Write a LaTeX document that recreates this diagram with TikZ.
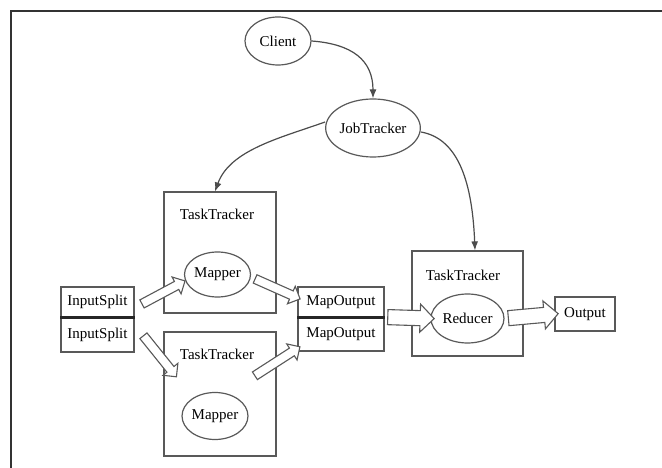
\documentclass[tikz,border=0pt]{standalone}
\usepackage{fontspec}
\setmainfont{Liberation Serif}
\usetikzlibrary{shapes.geometric,shapes.arrows,arrows.meta,calc}
\tikzset{
  lc/.style={draw=black!65, line width=1.2pt},
  oval/.style={ellipse, lc, inner sep=0pt},
  box/.style={rectangle, lc, inner sep=0pt},
  lbl/.style={inner sep=0pt, font=\fontsize{15}{18}\selectfont},
  harrow/.style={single arrow, draw=black!65, line width=1.1pt, fill=white, inner xsep=0pt, minimum width=0pt, single arrow head indent=0pt},
  ctrl/.style={draw=black!70, line width=1.2pt, -{Latex[length=9pt,width=7pt]}},
}
\newcommand\hollowarrow[4]{%
  \path let \p1=($(#2)-(#1)$), \n1={atan2(\y1,\x1)}, \n2={veclen(\x1,\y1)} in
    node[harrow, rotate=\n1, minimum height=\n2, inner ysep=#3, single arrow head extend=#4] at ($(#1)!0.5!(#2)$) {};}
\begin{document}
\begin{tikzpicture}[x=1pt,y=-1pt]
\useasboundingbox (0,0) rectangle (662,468);
\fill[white] (0,0) rectangle (662,468);
\coordinate (f1) at (11,468);
\coordinate (f2) at (11,11);
\coordinate (f3) at (662,11);
\draw[black!80, line width=1.6pt] (f1) -- (f2) -- (f3);

% nodes
\node[oval, minimum width=66pt, minimum height=48pt, lbl] (client) at (278,41) {Client};
\node[oval, minimum width=94pt, minimum height=58pt, lbl] (jt) at (373,128) {JobTracker};

\node[box, minimum width=112pt, minimum height=121pt] (tt1) at (220,252.5) {};
\node[lbl] (tt1l) at (217,214) {TaskTracker};
\node[oval, minimum width=59pt, minimum height=45pt, lbl] (m1) at (217.5,274.5) {Mapper};

\node[box, minimum width=112pt, minimum height=124pt] (tt2) at (220,394) {};
\node[lbl] (tt2l) at (217,354) {TaskTracker};
\node[oval, minimum width=56pt, minimum height=47pt, lbl] (m2) at (215,416) {Mapper};

\node[box, minimum width=73pt, minimum height=30pt, lbl] (is1) at (97.5,302) {InputSplit};
\node[box, minimum width=73pt, minimum height=35pt, lbl] (is2) at (97.5,334.5) {InputSplit};
\draw[black!85, line width=2.4pt] (is1.south west) -- (is1.south east);

\node[box, minimum width=86pt, minimum height=30pt, lbl] (mo1) at (341,302) {MapOutput};
\node[box, minimum width=86pt, minimum height=34pt, lbl] (mo2) at (341,334) {MapOutput};
\draw[black!85, line width=2.4pt] (mo1.south west) -- (mo1.south east);

\node[box, minimum width=111pt, minimum height=105pt] (tt3) at (467.5,303.5) {};
\node[lbl] (tt3l) at (463,275) {TaskTracker};
\node[oval, minimum width=73pt, minimum height=49pt, lbl] (red) at (467.5,318.5) {Reducer};

\node[box, minimum width=60pt, minimum height=34pt, lbl] (out) at (585,314) {Output};

% control arrows
\draw[ctrl] (client.east) .. controls (352,44) and (373,60) .. (jt.north);
\draw[ctrl] ([yshift=6pt]jt.west) .. controls (280,138) and (230,150) .. ([xshift=-5pt]tt1.north);
\draw[ctrl] ([yshift=-4pt]jt.east) .. controls (455,138) and (472,175) .. ([xshift=7.5pt]tt3.north);

% hollow data arrows
\coordinate (a1s) at (140,305); \coordinate (a1e) at (183,282);
\coordinate (a2s) at (142,334); \coordinate (a2e) at (175,375);
\coordinate (a3s) at (253,278); \coordinate (a3e) at (298,298);
\coordinate (a4s) at (253,377); \coordinate (a4e) at (298,348);
\coordinate (b1s) at (384,317); \coordinate (b1e) at (red.west);
\coordinate (b2s) at (red.east); \coordinate (b2e) at (out.west);
\hollowarrow{a1s}{a1e}{4pt}{5pt}
\hollowarrow{a2s}{a2e}{4pt}{5pt}
\hollowarrow{a3s}{a3e}{4pt}{5pt}
\hollowarrow{a4s}{a4e}{4pt}{5pt}
\hollowarrow{b1s}{b1e}{7pt}{6.5pt}
\hollowarrow{b2s}{b2e}{7pt}{6.5pt}
\end{tikzpicture}
\end{document}
